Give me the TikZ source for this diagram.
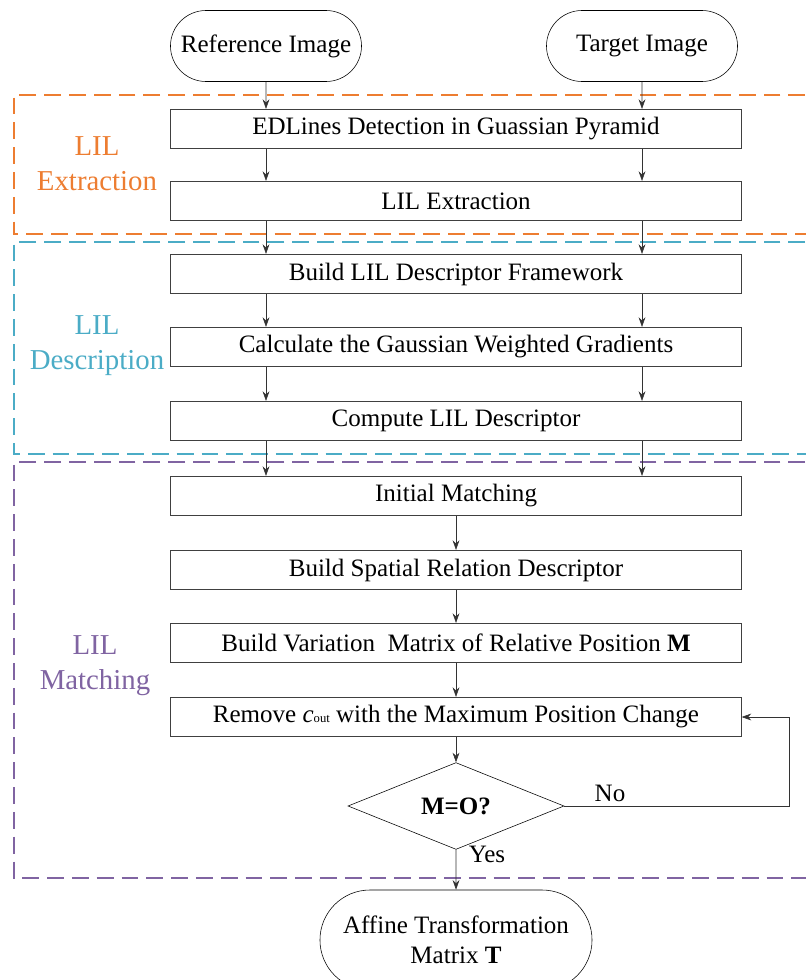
\documentclass[tikz,border=0pt]{standalone}
\usepackage{fontspec}
\setmainfont{Liberation Serif}
\usepackage{tikz}
\usetikzlibrary{shapes.misc,shapes.geometric,arrows.meta}

\definecolor{extcol}{RGB}{237,125,49}
\definecolor{descol}{RGB}{75,172,198}
\definecolor{matcol}{RGB}{128,100,162}

\begin{document}
\begin{tikzpicture}[x=0.025cm,y=-0.025cm,font=\fontsize{17.8}{21}\selectfont,
  proc/.style={draw=black!75,thick,minimum width=14.25cm,minimum height=0.975cm,inner sep=0pt},
  term/.style={draw,rounded rectangle,minimum width=4.775cm,minimum height=1.775cm,inner sep=0pt},
  arr/.style={-{Stealth[length=2.4mm,width=1.7mm]},black!80},
  region/.style={dash pattern=on 0.42cm off 0.2cm,line width=1.6pt},
  stage/.style={align=center,font=\fontsize{20.5}{25}\selectfont}]
\useasboundingbox (0,0) rectangle (805,980);

% stage frames
\draw[region,extcol] (830,95) -- (14,95) -- (14,234) -- (830,234);
\draw[region,descol] (830,242) -- (14,242) -- (14,454) -- (830,454);
\draw[region,matcol] (830,462) -- (14,462) -- (14,878) -- (830,878);
\node[stage,extcol] at (97,164) {LIL\\Extraction};
\node[stage,descol] at (97,346) {LIL\\Description};
\node[stage,matcol] at (95,666) {LIL\\Matching};

% inputs
\node[term] (ref) at (266,46) {Reference Image};
\node[term] (tgt) at (642,46) {Target Image};

% steps
\node[proc] (ed) at (456,129) {EDLines Detection in Guassian Pyramid};
\node[proc] (ext) at (456,201) {LIL Extraction};
\node[proc] (frm) at (456,274) {Build LIL Descriptor Framework};
\node[proc] (grad) at (456,347) {Calculate the Gaussian Weighted Gradients};
\node[proc] (desc) at (456,421) {Compute LIL Descriptor};
\node[proc] (init) at (456,496) {Initial Matching};
\node[proc] (spat) at (456,570) {Build Spatial Relation Descriptor};
\node[proc] (var) at (456,643) {Build Variation\ \ Matrix of Relative Position \textbf{M}};
\node[proc] (rm) at (456,717) {Remove \textit{c}{\small out} with the Maximum Position Change};
\node[draw,diamond,minimum width=5.4cm,minimum height=1.83cm,inner sep=0pt] (dec) at (456,806) {\textbf{M=O?}};
\node[term,minimum width=6.8cm,minimum height=2.5cm,align=center] (aff) at (456,940) {Affine Transformation\\Matrix \textbf{T}};

% arrows
\draw[arr] (ref) -- (ref |- ed.north);
\draw[arr] (tgt) -- (tgt |- ed.north);
\foreach \a/\b in {ed/ext,ext/frm,frm/grad,grad/desc,desc/init}{
  \draw[arr] (\a.south -| ref) -- (\b.north -| ref);
  \draw[arr] (\a.south -| tgt) -- (\b.north -| tgt);
}
\foreach \a/\b in {init/spat,spat/var,var/rm,rm/dec,dec/aff}
  \draw[arr] (\a) -- (\b);

% loop back
\coordinate (fb) at (789,717);
\draw[arr] (dec.east) -| (fb) -- (rm.east);
\node (no) at (610,793) {No};
\node (yes) at (487,854) {Yes};
\end{tikzpicture}
\end{document}
